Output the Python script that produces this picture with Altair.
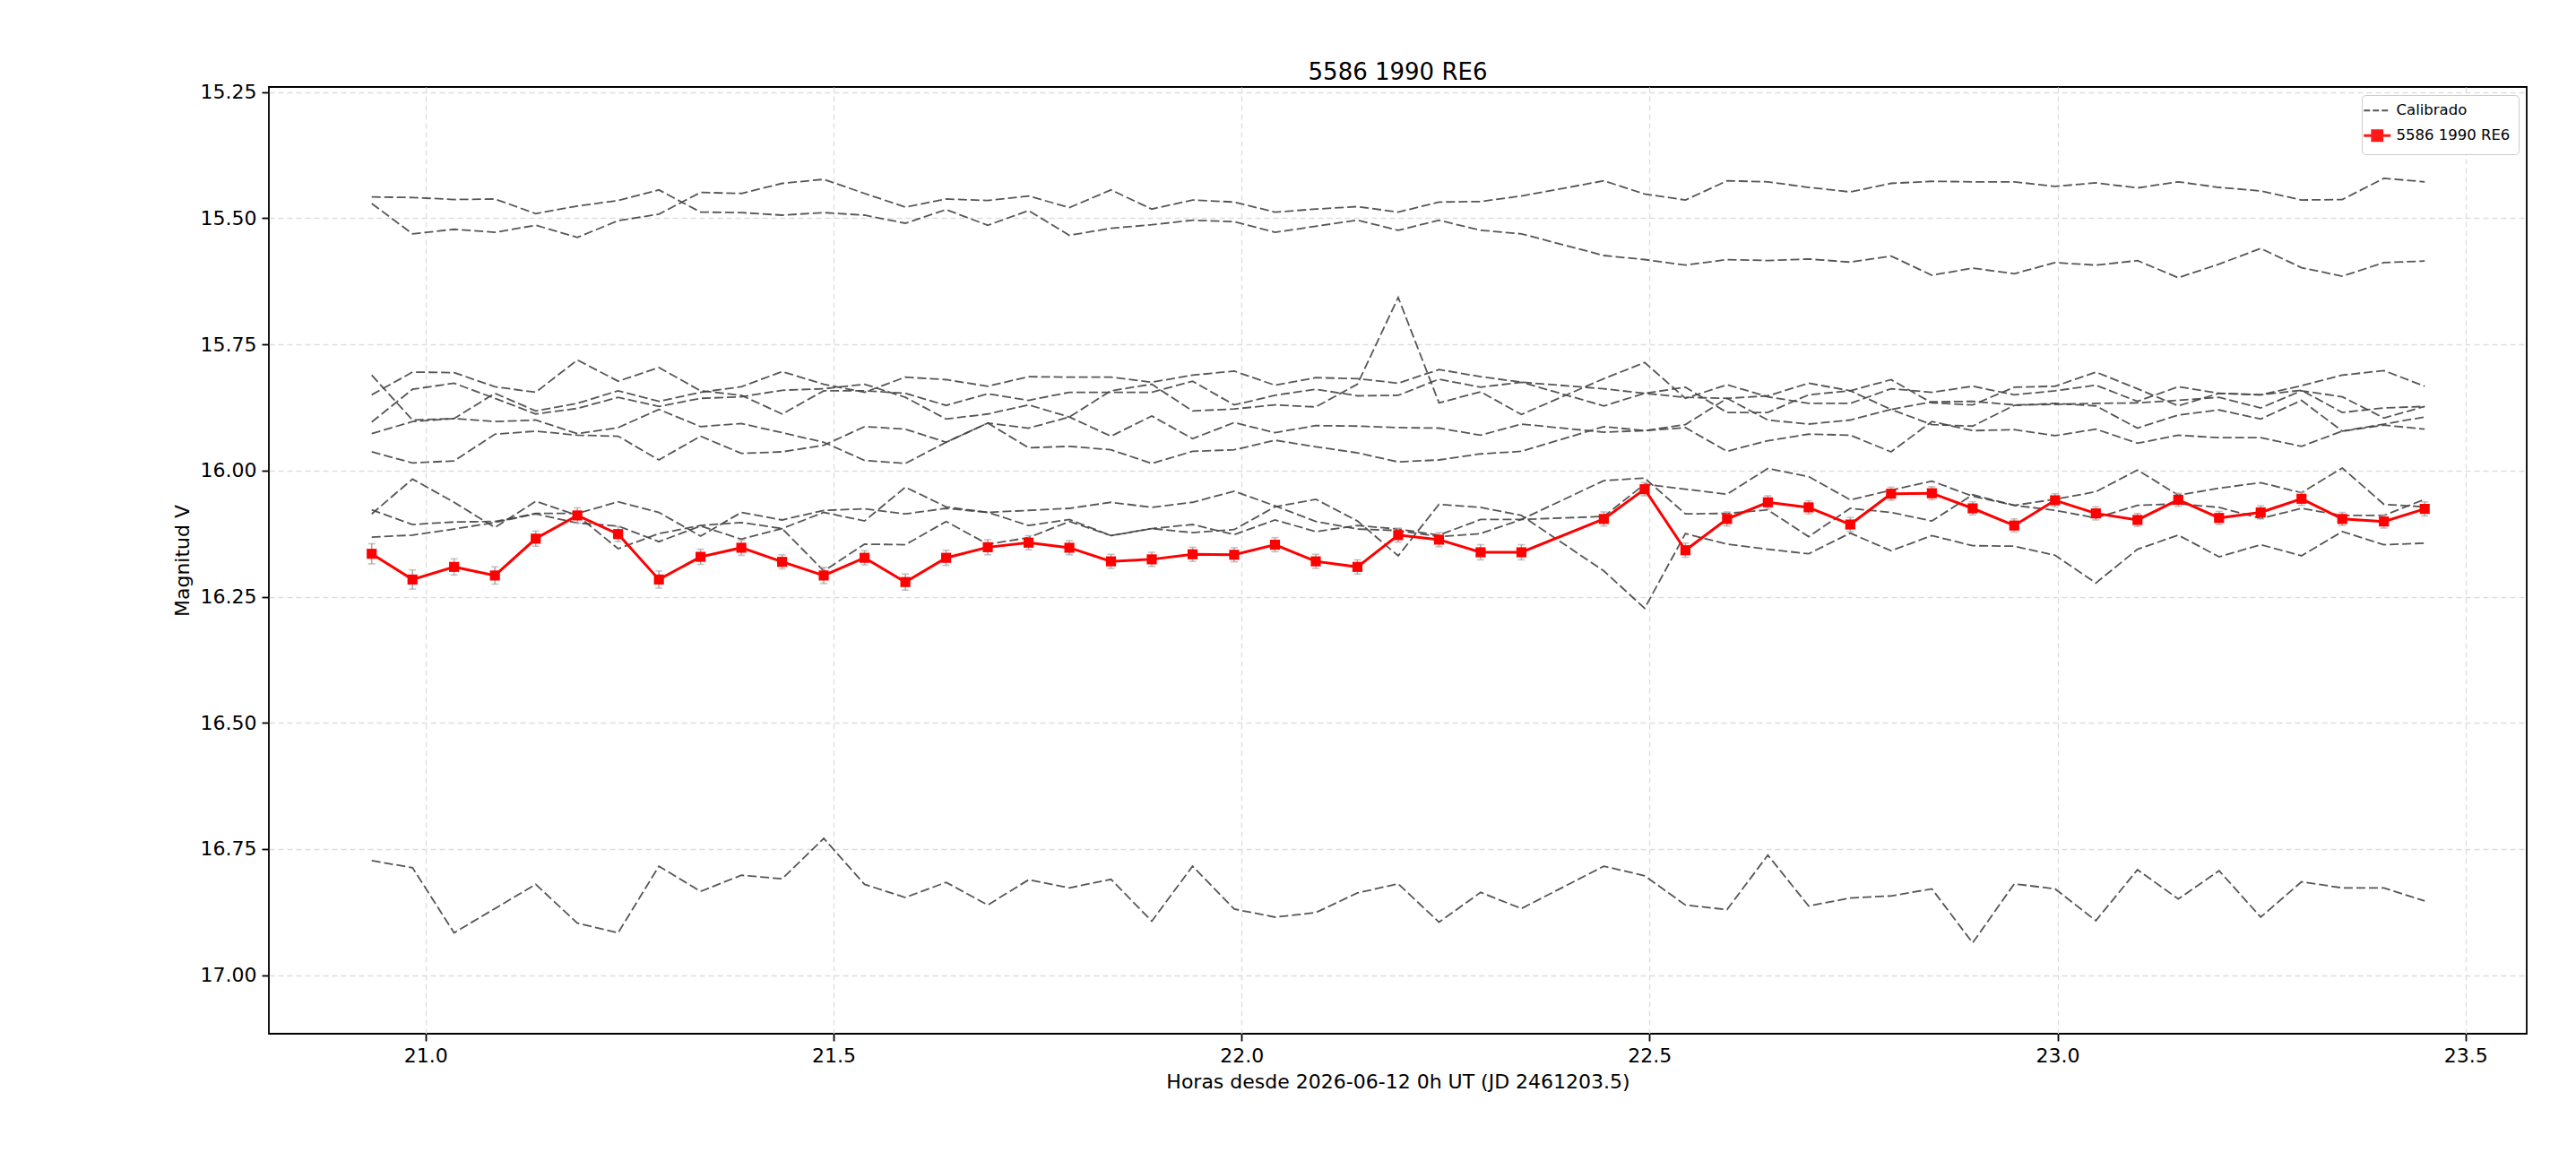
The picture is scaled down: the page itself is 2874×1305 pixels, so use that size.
import altair as alt
import pandas as pd

# Tiempo (horas desde 2026-06-12 0h UT); falta un cuadro hacia 22.39 h
horas = [20.934, 20.984, 21.035, 21.085, 21.135, 21.186, 21.236, 21.286, 21.337, 21.387,
         21.437, 21.488, 21.538, 21.588, 21.638, 21.689, 21.739, 21.789, 21.840, 21.890,
         21.940, 21.991, 22.041, 22.091, 22.142, 22.192, 22.242, 22.293, 22.343,
         22.444, 22.494, 22.544, 22.595, 22.645, 22.695, 22.746, 22.796, 22.846, 22.896,
         22.947, 22.997, 23.047, 23.098, 23.148, 23.198, 23.249, 23.299, 23.349, 23.400, 23.450]

# Estrellas de comparacion calibradas
cal_1 = [15.458, 15.459, 15.463, 15.462, 15.491, 15.476, 15.465, 15.444, 15.488, 15.489,
         15.494, 15.489, 15.494, 15.510, 15.483, 15.514, 15.485, 15.534, 15.520, 15.513,
         15.504, 15.507, 15.528, 15.516, 15.504, 15.524, 15.504, 15.524, 15.531,
         15.574, 15.582, 15.593, 15.582, 15.584, 15.581, 15.587, 15.575, 15.613, 15.599,
         15.610, 15.588, 15.593, 15.584, 15.618, 15.591, 15.560, 15.598, 15.615, 15.588, 15.585]
cal_2 = [15.471, 15.531, 15.522, 15.528, 15.514, 15.538, 15.505, 15.492, 15.449, 15.451,
         15.431, 15.423, 15.451, 15.478, 15.462, 15.465, 15.456, 15.479, 15.444, 15.482,
         15.464, 15.468, 15.488, 15.482, 15.477, 15.488, 15.468, 15.467, 15.456,
         15.426, 15.452, 15.464, 15.426, 15.428, 15.439, 15.448, 15.431, 15.427, 15.428,
         15.428, 15.437, 15.430, 15.440, 15.428, 15.439, 15.446, 15.464, 15.463, 15.421, 15.428]
cal_3 = [15.850, 15.805, 15.806, 15.834, 15.845, 15.781, 15.823, 15.796, 15.842, 15.851,
         15.888, 15.842, 15.842, 15.847, 15.871, 15.848, 15.861, 15.845, 15.845, 15.845,
         15.823, 15.870, 15.851, 15.839, 15.852, 15.851, 15.819, 15.835, 15.825,
         15.872, 15.847, 15.835, 15.885, 15.885, 15.850, 15.842, 15.820, 15.866, 15.870,
         15.835, 15.833, 15.805, 15.838, 15.872, 15.847, 15.850, 15.832, 15.811, 15.802, 15.833]
cal_4 = [15.904, 15.839, 15.827, 15.857, 15.888, 15.877, 15.855, 15.873, 15.857, 15.854,
         15.841, 15.838, 15.829, 15.855, 15.898, 15.888, 15.870, 15.894, 15.932, 15.892,
         15.937, 15.905, 15.925, 15.911, 15.912, 15.915, 15.916, 15.930, 15.908,
         15.924, 15.921, 15.915, 15.962, 15.941, 15.928, 15.930, 15.963, 15.903, 15.921,
         15.919, 15.931, 15.918, 15.946, 15.930, 15.935, 15.935, 15.952, 15.922, 15.910, 15.918]
cal_5 = [15.811, 15.900, 15.897, 15.847, 15.882, 15.867, 15.842, 15.863, 15.845, 15.834,
         15.804, 15.829, 15.845, 15.815, 15.820, 15.833, 15.814, 15.815, 15.815, 15.825,
         15.811, 15.803, 15.831, 15.816, 15.818, 15.827, 15.800, 15.814, 15.825,
         15.838, 15.847, 15.855, 15.857, 15.852, 15.827, 15.842, 15.879, 15.864, 15.863,
         15.870, 15.869, 15.867, 15.866, 15.861, 15.855, 15.876, 15.842, 15.854, 15.896, 15.873]
cal_6 = [15.927, 15.903, 15.897, 15.903, 15.900, 15.927, 15.915, 15.879, 15.913, 15.907,
         15.925, 15.944, 15.980, 15.986, 15.944, 15.906, 15.916, 15.894, 15.842, 15.829,
         15.882, 15.878, 15.870, 15.874, 15.829, 15.657, 15.866, 15.844, 15.889,
         15.818, 15.786, 15.857, 15.830, 15.854, 15.867, 15.867, 15.838, 15.845, 15.833,
         15.850, 15.842, 15.831, 15.863, 15.834, 15.847, 15.850, 15.841, 15.885, 15.876, 15.873]
cal_7 = [15.963, 15.985, 15.981, 15.928, 15.922, 15.930, 15.932, 15.979, 15.932, 15.966,
         15.963, 15.950, 15.913, 15.918, 15.944, 15.906, 15.955, 15.952, 15.959, 15.986,
         15.962, 15.959, 15.940, 15.953, 15.965, 15.983, 15.979, 15.967, 15.962,
         15.913, 15.921, 15.909, 15.857, 15.900, 15.908, 15.900, 15.879, 15.909, 15.912,
         15.871, 15.867, 15.872, 15.916, 15.890, 15.880, 15.898, 15.861, 15.922, 15.908, 15.894]
cal_8 = [16.086, 16.017, 16.063, 16.113, 16.061, 16.089, 16.155, 16.125, 16.109, 16.103,
         16.115, 16.199, 16.146, 16.147, 16.101, 16.146, 16.133, 16.101, 16.129, 16.115,
         16.123, 16.117, 16.072, 16.057, 16.100, 16.169, 16.067, 16.073, 16.089,
         16.199, 16.273, 16.125, 16.146, 16.156, 16.165, 16.124, 16.159, 16.129, 16.149,
         16.150, 16.168, 16.223, 16.156, 16.128, 16.171, 16.147, 16.169, 16.121, 16.147, 16.144]
cal_9 = [16.078, 16.107, 16.102, 16.101, 16.085, 16.085, 16.062, 16.083, 16.130, 16.083,
         16.098, 16.079, 16.076, 16.086, 16.075, 16.083, 16.079, 16.075, 16.063, 16.073,
         16.063, 16.041, 16.070, 16.101, 16.116, 16.119, 16.131, 16.125, 16.097,
         16.020, 16.015, 16.086, 16.085, 16.078, 16.131, 16.075, 16.083, 16.100, 16.048,
         16.069, 16.079, 16.094, 16.069, 16.066, 16.073, 16.095, 16.075, 16.089, 16.089, 16.057]
cal_10 = [16.132, 16.128, 16.116, 16.103, 16.086, 16.104, 16.110, 16.141, 16.110, 16.136,
          16.115, 16.083, 16.100, 16.033, 16.072, 16.083, 16.109, 16.097, 16.129, 16.115,
          16.107, 16.127, 16.098, 16.121, 16.109, 16.116, 16.128, 16.097, 16.097,
          16.091, 16.027, 16.037, 16.047, 15.996, 16.012, 16.058, 16.039, 16.021, 16.051,
          16.069, 16.057, 16.042, 15.999, 16.049, 16.035, 16.024, 16.044, 15.995, 16.067, 16.072]
cal_11 = [16.773, 16.787, 16.916, 16.868, 16.820, 16.897, 16.916, 16.784, 16.834, 16.802,
          16.809, 16.729, 16.820, 16.846, 16.816, 16.861, 16.811, 16.827, 16.810, 16.893,
          16.784, 16.869, 16.885, 16.876, 16.837, 16.819, 16.895, 16.836, 16.868,
          16.784, 16.803, 16.861, 16.870, 16.762, 16.863, 16.847, 16.843, 16.829, 16.936,
          16.819, 16.829, 16.892, 16.791, 16.849, 16.793, 16.885, 16.815, 16.827, 16.827, 16.853]

# Objeto 5586 1990 RE6
objetivo = [16.165, 16.216, 16.191, 16.208, 16.135, 16.089, 16.126, 16.216, 16.171, 16.153,
            16.181, 16.208, 16.173, 16.221, 16.173, 16.152, 16.143, 16.153, 16.180, 16.176,
            16.166, 16.167, 16.147, 16.180, 16.191, 16.128, 16.137, 16.162, 16.162,
            16.096, 16.037, 16.158, 16.096, 16.063, 16.073, 16.107, 16.046, 16.045, 16.075,
            16.109, 16.059, 16.085, 16.098, 16.058, 16.094, 16.083, 16.056, 16.096, 16.101, 16.076]
error = [0.020, 0.019, 0.016, 0.017, 0.015, 0.015, 0.015, 0.017, 0.015, 0.015,
         0.014, 0.016, 0.014, 0.016, 0.015, 0.015, 0.014, 0.014, 0.014, 0.014,
         0.014, 0.014, 0.014, 0.014, 0.014, 0.014, 0.014, 0.015, 0.015,
         0.014, 0.013, 0.014, 0.014, 0.013, 0.013, 0.014, 0.013, 0.013, 0.013,
         0.013, 0.013, 0.013, 0.013, 0.013, 0.013, 0.013, 0.013, 0.013, 0.013, 0.014]

x_ticks = [21.0, 21.5, 22.0, 22.5, 23.0, 23.5]
y_ticks = [15.25, 15.50, 15.75, 16.00, 16.25, 16.50, 16.75, 17.00]

NOMBRE = "5586 1990 RE6"
comparaciones = [cal_1, cal_2, cal_3, cal_4, cal_5, cal_6, cal_7, cal_8, cal_9, cal_10, cal_11]

rows = []
for k, serie in enumerate(comparaciones):
    for t, m in zip(horas, serie):
        rows.append({"hora": t, "mag": m, "estrella": f"C{k + 1}", "tipo": "Calibrado"})
df_comp = pd.DataFrame(rows)

df_obj = pd.DataFrame({"hora": horas, "mag": objetivo, "err": error})
df_obj["tipo"] = NOMBRE
df_obj["lo"] = df_obj["mag"] - df_obj["err"]
df_obj["hi"] = df_obj["mag"] + df_obj["err"]

FONT = "DejaVu Sans"
x_scale = alt.Scale(domain=[20.808, 23.575], nice=False, zero=False)
y_scale = alt.Scale(domain=[15.24, 17.116], reverse=True, nice=False, zero=False)
color_scale = alt.Scale(domain=["Calibrado", NOMBRE], range=["#444444", "#ff0000"])

x_axis = alt.Axis(title="Horas desde 2026-06-12 0h UT (JD 2461203.5)", values=x_ticks, format=".1f")
y_axis = alt.Axis(title="Magnitud V", values=y_ticks, format=".2f")

legend = alt.Legend(
    title=None, orient="top-right", offset=9,
    fillColor="white", strokeColor="#cccccc", cornerRadius=4, padding=9,
    labelFont=FONT, labelFontSize=16.5, labelColor="black", rowPadding=7, labelOffset=13,
    symbolSize=900,
    symbolType={"expr": "datum.value === 'Calibrado' ? 'stroke' : 'M-1,0H1M-0.36,-0.36H0.36V0.36H-0.36Z'"},
    symbolDash={"expr": "datum.value === 'Calibrado' ? [7, 3] : [1, 0]"},
    symbolStrokeWidth={"expr": "datum.value === 'Calibrado' ? 1.8 : 3"},
    symbolFillColor={"expr": "datum.value === 'Calibrado' ? 'transparent' : '#ff0000'"},
)

X = alt.X("hora:Q", scale=x_scale, axis=x_axis)
Y = alt.Y("mag:Q", scale=y_scale, axis=y_axis)

comp_lines = alt.Chart(df_comp).mark_line(strokeDash=[10, 4], strokeWidth=1.8, opacity=0.9).encode(
    x=X, y=Y,
    color=alt.Color("tipo:N", scale=color_scale, legend=legend),
    detail="estrella:N",
)

err_rule = alt.Chart(df_obj).mark_rule(color="#aaaaaa", strokeWidth=1.6).encode(
    x=X, y=alt.Y("lo:Q", scale=y_scale, axis=y_axis), y2="hi:Q"
)
cap_lo = alt.Chart(df_obj).mark_tick(orient="horizontal", size=8, thickness=1.6, color="#aaaaaa").encode(
    x=X, y=alt.Y("lo:Q", scale=y_scale, axis=y_axis)
)
cap_hi = alt.Chart(df_obj).mark_tick(orient="horizontal", size=8, thickness=1.6, color="#aaaaaa").encode(
    x=X, y=alt.Y("hi:Q", scale=y_scale, axis=y_axis)
)
obj_line = alt.Chart(df_obj).mark_line(strokeWidth=3).encode(
    x=X, y=Y, color=alt.Color("tipo:N", scale=color_scale, legend=legend)
)
obj_pts = alt.Chart(df_obj).mark_square(size=125, color="#ff0000", opacity=1).encode(x=X, y=Y)

chart = alt.layer(comp_lines, err_rule, cap_lo, cap_hi, obj_line, obj_pts).properties(
    width=2519, height=1056,
    autosize=alt.AutoSizeParams(type="none"),
    padding={"left": 300, "top": 97, "right": 55, "bottom": 152},
    title=alt.TitleParams(NOMBRE, font=FONT, fontSize=26, fontWeight="normal",
                          color="black", anchor="middle", offset=-2),
).configure_view(
    stroke="black", strokeWidth=1.8
).configure_axis(
    domain=False, grid=True, gridDash=[6, 4], gridColor="#dddddd", gridWidth=1.3,
    tickColor="black", tickSize=8, tickWidth=1.8,
    labelFont=FONT, labelFontSize=22, labelColor="black", labelPadding=6,
    titleFont=FONT, titleFontSize=22, titleFontWeight="normal", titleColor="black", titlePadding=8,
)

chart.save("out.html", embed_options={"renderer": "svg", "actions": False})
